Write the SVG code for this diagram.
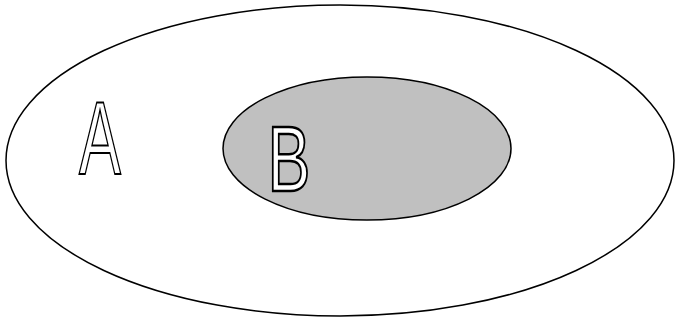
<svg xmlns="http://www.w3.org/2000/svg" width="675" height="322" viewBox="0 0 675 322">
<style>
.set{stroke:#000;stroke-width:1.5}
.lbl{font-family:"Liberation Sans",Arial,sans-serif;fill:#fff;stroke:#000;text-anchor:middle}
</style>
<rect width="675" height="322" fill="#fff"/>
<g id="setA">
<ellipse class="set" cx="340" cy="160.5" rx="334" ry="155.5" fill="#fff"/>
<text class="lbl" transform="translate(100,174) scale(0.61,1)" font-size="103" stroke-width="2">A</text>
</g>
<g id="setB">
<ellipse class="set" cx="367" cy="148.5" rx="144" ry="71.5" fill="#c0c0c0"/>
<text class="lbl" transform="translate(289,191) scale(0.7,1)" font-size="92" stroke-width="2.5">B</text>
</g>
<g id="connectors"/>
</svg>
